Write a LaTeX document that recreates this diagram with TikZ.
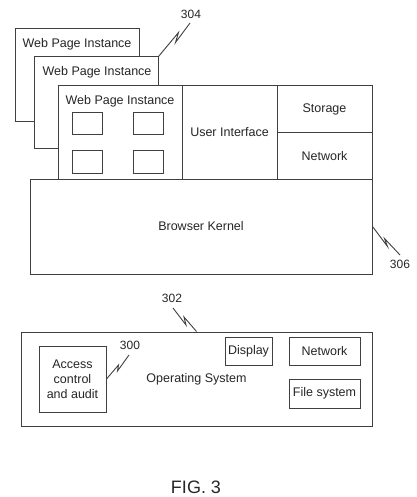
\documentclass[tikz,border=0pt]{standalone}
\usepackage{fontspec}
\setmainfont{Liberation Sans}
\begin{document}
\begin{tikzpicture}
      [
      x=1pt,y=-1pt,
      panel/.style={rectangle,draw=black!75,fill=white,line width=1pt,inner sep=0pt,text=black!85,font=\fontsize{12.5}{15}\selectfont},
      txt/.style={inner sep=0pt,text=black!85,font=\fontsize{12.5}{15}\selectfont},
      tag/.style={inner sep=0pt,text=black!85,font=\fontsize{12}{14}\selectfont},
      zig/.style={draw=black!75,line width=0.9pt}
      ]
      \useasboundingbox (0,0) rectangle (416,497);

      \node (page1) at (77,75.5) [panel,minimum width=124pt,minimum height=93pt] {};
      \node (title1) at (77,44) [txt] {Web Page Instance};
      \node (page2) at (96,103) [panel,minimum width=124pt,minimum height=92pt] {};
      \node (title2) at (97,72) [txt] {Web Page Instance};
      \node (page3) at (120,132.5) [panel,minimum width=124pt,minimum height=93pt] {};
      \node (title3) at (120,101) [txt] {Web Page Instance};
      \node (win1) at (87,124) [panel,minimum width=30pt,minimum height=22pt] {};
      \node (win2) at (148.5,124) [panel,minimum width=30pt,minimum height=22pt] {};
      \node (win3) at (87,162) [panel,minimum width=30pt,minimum height=22pt] {};
      \node (win4) at (148.5,162) [panel,minimum width=30pt,minimum height=22pt] {};

      \node (ui) at (229.5,132.5) [panel,minimum width=95pt,minimum height=93pt] {User Interface};
      \node (storage) at (324.5,109.5) [panel,minimum width=95pt,minimum height=47pt] {Storage};
      \node (network) at (324.5,156) [panel,minimum width=95pt,minimum height=46pt] {Network};
      \node (kernel) at (201,226.5) [panel,minimum width=342pt,minimum height=95pt] {Browser Kernel};

      \node (os) at (196.5,379) [panel,minimum width=351pt,minimum height=94pt] {Operating System};
      \node (access) at (72.5,379) [panel,minimum width=67pt,minimum height=66pt,align=center] {Access\\control\\and audit};
      \node (display) at (248.5,351) [panel,minimum width=47pt,minimum height=28pt] {Display};
      \node (osnet) at (324.5,351) [panel,minimum width=71pt,minimum height=28pt] {Network};
      \node (files) at (324.5,393.5) [panel,minimum width=71pt,minimum height=29pt] {File system};

      \node (n304) at (191,14) [tag] {304};
      \node (n306) at (400,264) [tag] {306};
      \node (n302) at (172,298) [tag] {302};
      \node (n300) at (130,345) [tag] {300};
      \coordinate (end304) at (190,23);
      \coordinate (end306) at (400,255);
      \coordinate (end302) at (173,308);
      \coordinate (end300) at (129,355);
      \draw [zig] (page2.north east) -- ++(20,-24) -- ++(-3,10) -- (end304);
      \draw [zig] (kernel.east) -- ++(15,20) -- ++(-3,-8) -- (end306);
      \draw [zig] (end302) -- ++(13,17) -- ++(-2,-8) -- (os.north);
      \draw [zig] (access.east) -- ++(12,-14) -- ++(-1,6) -- (end300);

      \node (fig) at (196,487) [txt,font=\fontsize{18}{20}\selectfont] {FIG. 3};
    \end{tikzpicture}
\end{document}
